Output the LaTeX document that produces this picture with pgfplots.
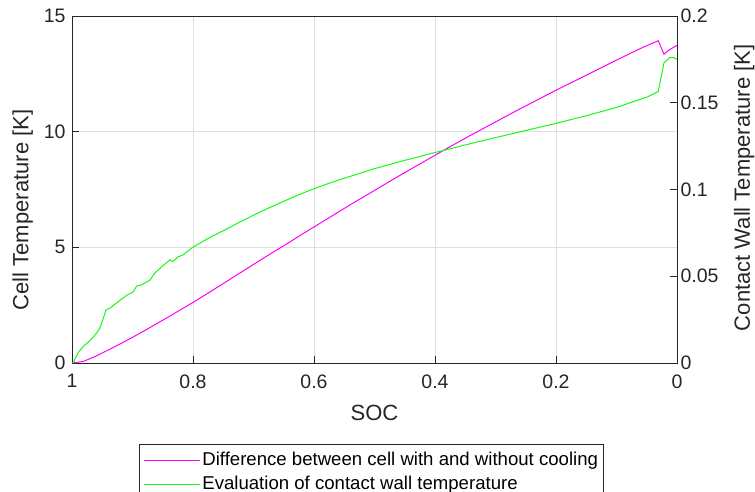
\documentclass[border=0pt]{standalone}
\usepackage{pgfplots}
\pgfplotsset{compat=1.18}
\usepackage{fontspec}
\setmainfont{Liberation Sans}
\definecolor{axgray}{RGB}{38,38,38}
\definecolor{gridgray}{RGB}{223,223,223}
\definecolor{mag}{RGB}{255,0,255}
\definecolor{grn}{RGB}{20,250,20}

\begin{document}
\begin{tikzpicture}
\pgfplotsset{
  every axis/.append style={
    scale only axis, width=605pt, height=347pt,
    xmin=0, xmax=1, x dir=reverse,
    tick align=inside,
    axis line style={axgray, line width=0.8pt},
    tick style={axgray, line width=0.8pt},
    major tick length=7pt,
    ticklabel style={font=\fontsize{19.5}{23}\selectfont, text=axgray},
    label style={font=\fontsize{22}{26}\selectfont, text=axgray},
    /pgf/number format/assume math mode=true,
  }
}
\begin{axis}[
  name=ax,
  ymin=0, ymax=15,
  xtick={0,0.2,0.4,0.6,0.8,1},
  xticklabels={0,0.2,0.4,0.6,0.8,1},
  ytick={0,5,10,15},
  xtick pos=left, ytick pos=left,
  xticklabel style={yshift=-8pt},
  yticklabel style={xshift=-3pt},
  grid=major, grid style={gridgray, line width=0.8pt},
  xlabel={SOC},
  xlabel style={at={(axis description cs:0.5,-0.144)}, anchor=center},
  ylabel={Cell Temperature [K]},
  ylabel style={at={(axis description cs:-0.0815,0.441)}, anchor=center},
  legend cell align=left,
  legend style={at={(axis description cs:0.4954,-0.2343)}, anchor=north, draw=axgray, line width=0.8pt,
    font=\fontsize{18.6}{22}\selectfont, inner sep=3.8pt,
    nodes={inner sep=2pt, text height=15pt, text depth=5pt},
    row sep=0pt, column sep=0pt},
  legend image code/.code={\draw[mark repeat=2,mark phase=2,#1] plot coordinates {(0pt,0pt) (28pt,0pt) (56pt,0pt)};},
]
\addplot[mag, line width=1pt] coordinates {
(1.00,0) (0.99,0.03) (0.98,0.08) (0.96,0.30) (0.94,0.56) (0.92,0.83) (0.90,1.11)
(0.88,1.40) (0.86,1.70) (0.84,2.00) (0.82,2.31) (0.80,2.62) (0.78,2.94) (0.76,3.27)
(0.74,3.60) (0.72,3.93) (0.70,4.26) (0.68,4.59) (0.66,4.91) (0.64,5.23) (0.62,5.56)
(0.60,5.88) (0.58,6.20) (0.56,6.52) (0.54,6.84) (0.52,7.15) (0.50,7.46) (0.48,7.77)
(0.46,8.08) (0.44,8.38) (0.42,8.68) (0.40,8.98) (0.38,9.28) (0.36,9.57) (0.34,9.86)
(0.32,10.14) (0.30,10.42) (0.28,10.70) (0.26,10.98) (0.24,11.25) (0.22,11.52)
(0.20,11.79) (0.18,12.05) (0.16,12.31) (0.14,12.57) (0.12,12.83) (0.10,13.09)
(0.08,13.35) (0.06,13.60) (0.04,13.83) (0.031,13.93) (0.0215,13.35) (0.012,13.55) (0.0,13.73)
};
\addlegendentry{Difference between cell with and without cooling}
\addlegendimage{grn, line width=1pt}
\addlegendentry{Evaluation of contact wall temperature}
\end{axis}
\begin{axis}[
  ymin=0, ymax=0.2,
  axis x line=none,
  axis y line*=right,
  ytick={0,0.05,0.1,0.15,0.2},
  yticklabels={0,0.05,0.1,0.15,0.2},
  ylabel={Contact Wall Temperature [K]},
  ylabel style={at={(axis description cs:1.111,0.505)}, anchor=center},
]
\addplot[grn, line width=1pt] coordinates {
(1.00,0) (0.998,0.000) (0.99,0.006) (0.98,0.010) (0.97,0.013) (0.96,0.017) (0.954,0.020)
(0.948,0.026) (0.944,0.0305) (0.937,0.0317) (0.925,0.035) (0.909,0.0392) (0.899,0.0409)
(0.893,0.0444) (0.885,0.045) (0.871,0.0478) (0.863,0.0519) (0.850,0.056) (0.838,0.0594)
(0.834,0.0585) (0.830,0.0594) (0.825,0.0611) (0.817,0.0622) (0.802,0.0663) (0.788,0.0692)
(0.770,0.0728) (0.750,0.0762) (0.725,0.0808) (0.700,0.0852) (0.675,0.0893) (0.650,0.0932)
(0.625,0.0970) (0.60,0.1005) (0.575,0.1036) (0.55,0.1065) (0.50,0.1120) (0.45,0.1168) (0.40,0.1213)
(0.35,0.1257) (0.30,0.1299) (0.25,0.1340) (0.20,0.1381) (0.15,0.1425) (0.10,0.1473)
(0.0777,0.1500) (0.05,0.1532) (0.031,0.1565) (0.0215,0.173) (0.012,0.176) (0.005,0.176) (0.0,0.175)
};
\end{axis}
\pgfresetboundingbox
\path[use as bounding box] ([xshift=-72pt,yshift=-129pt]ax.south west) rectangle ([xshift=78pt,yshift=16pt]ax.north east);
\end{tikzpicture}
\end{document}
